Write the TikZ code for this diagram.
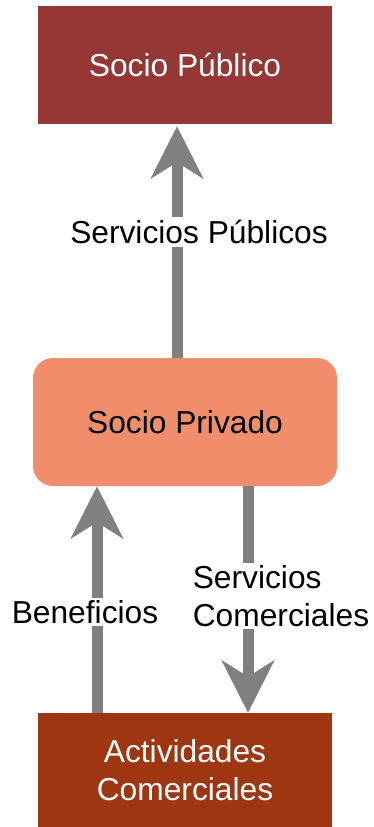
\documentclass[tikz,border=0pt]{standalone}
\usepackage{fontspec}
\setmainfont{Liberation Sans}
\usetikzlibrary{arrows.meta}
\definecolor{publico}{HTML}{953735}
\definecolor{privado}{HTML}{F08E6C}
\definecolor{activ}{HTML}{9E3611}
\definecolor{flecha}{HTML}{808080}
\tikzset{
  caja/.style={minimum width=220.5pt, minimum height=88.5pt, inner sep=0pt, align=center,
    font=\fontsize{23.8}{28.5}\selectfont},
  flujo/.style={draw=flecha, line width=8.25pt, -{Stealth[length=39pt,width=39pt,inset=12pt]}},
  etiqueta/.style={fill=white, inner xsep=2pt, inner ysep=2pt, align=center,
    font=\fontsize{23.8}{28.5}\selectfont}
}
\begin{document}
\begin{tikzpicture}[x=0.75pt,y=-0.75pt]
\useasboundingbox (0,0) rectangle (374,827);
% cajas
\node[caja, fill=publico, text=white] (pub) at (185,65) {Socio Público};
\node[caja, fill=privado, minimum width=228pt, minimum height=96pt, rounded corners=15pt] (priv) at (185,422) {Socio Privado};
\node[caja, fill=activ, text=white, minimum height=85.5pt] (act) at (185,770) {Actividades\\Comerciales};
% flechas
\draw[flujo] ([xshift=-6pt]priv.north) -- ([xshift=-6pt,yshift=-1.5pt]pub.south);
\draw[flujo] ([xshift=-66pt]act.north) -- ([xshift=-66pt]priv.south);
\draw[flujo] ([xshift=47.25pt]priv.south) -- ([xshift=47.25pt]act.north);
% etiquetas
\node[etiqueta] (servpub) at (199,232) {Servicios Públicos};
\node[etiqueta] (benef) at (85,612) {Beneficios};
\node[etiqueta, align=left] (servcom) at (281,596) {Servicios\\Comerciales};
\end{tikzpicture}
\end{document}
